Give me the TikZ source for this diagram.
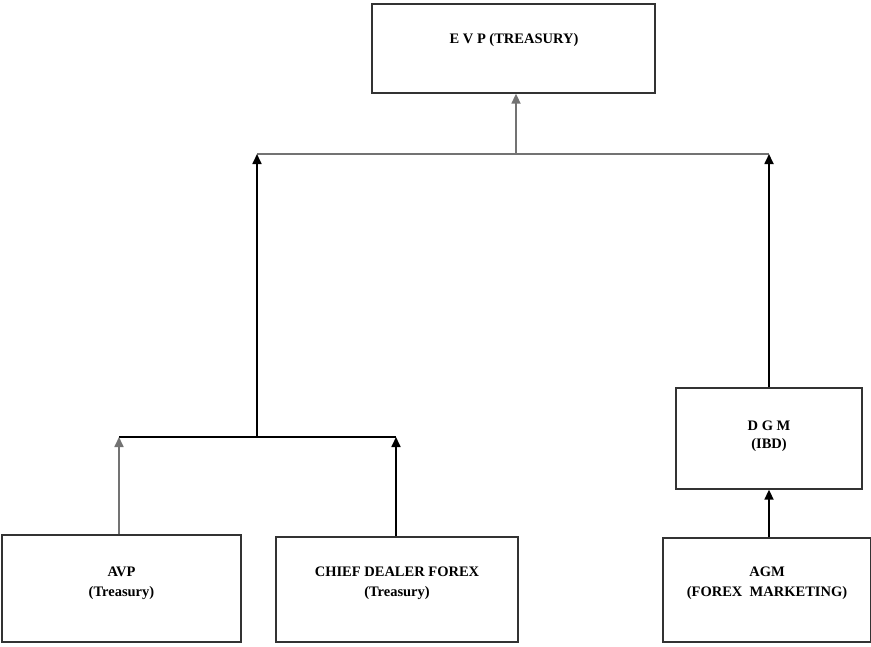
\documentclass[tikz,border=0pt]{standalone}
\usepackage{fontspec}
\setmainfont{Liberation Serif}
\usetikzlibrary{arrows.meta}
\begin{document}
\begin{tikzpicture}[x=1pt,y=-1pt,
  post/.style={draw=black!80, line width=1.3pt, fill=white, inner sep=0pt},
  label/.style={font=\bfseries\fontsize{14.5}{20}\selectfont, align=center},
  link/.style={line width=1.7pt, draw=black},
  greylink/.style={line width=1.7pt, draw=black!55},
  up/.style={-{Triangle[length=10pt,width=9pt]}}]
\useasboundingbox (0,0) rectangle (871,646);

% boxes (corners in pixel units)
\node[post, minimum width=283pt, minimum height=89pt] (evp) at (513.5,48.5) {};
\node[label] (evpt) at (514,40) {E V P (TREASURY)};

\node[post, minimum width=239pt, minimum height=107pt] (avp) at (121.5,588.5) {};
\node[label] (avpt) at (121.5,583) {AVP\\(Treasury)};

\node[post, minimum width=242pt, minimum height=105pt] (cdf) at (397,589.5) {};
\node[label] (cdft) at (397,583) {CHIEF DEALER FOREX\\(Treasury)};

\node[post, minimum width=186pt, minimum height=101pt] (dgm) at (769,438.5) {};
\node[label, font=\bfseries\fontsize{14.5}{18}\selectfont] (dgmt) at (769,436) {D G M\\(IBD)};

\node[post, minimum width=208pt, minimum height=104pt] (agm) at (767,590) {};
\node[label] (agmt) at (767,583) {AGM\\(FOREX~~MARKETING)};

% junction points
\coordinate (topL) at (257,154);
\coordinate (topR) at (769,154);
\coordinate (topM) at (516,154);
\coordinate (lowL) at (119,437);
\coordinate (lowR) at (396,437);
\coordinate (lowM) at (257,437);

% upper level
\draw[greylink] (topL) -- (topR);
\draw[greylink, up] (topM) -- (topM |- evp.south);
\draw[link, up] (lowM) -- (topL);
\draw[link, up] (dgm.north) -- (topR);

% lower level
\draw[link] (lowL) -- (lowR);
\draw[greylink, up] (lowL |- avp.north) -- (lowL);
\draw[link, up] (lowR |- cdf.north) -- (lowR);
\draw[link, up] (agm.north -| dgm.south) -- (dgm.south);
\end{tikzpicture}
\end{document}
